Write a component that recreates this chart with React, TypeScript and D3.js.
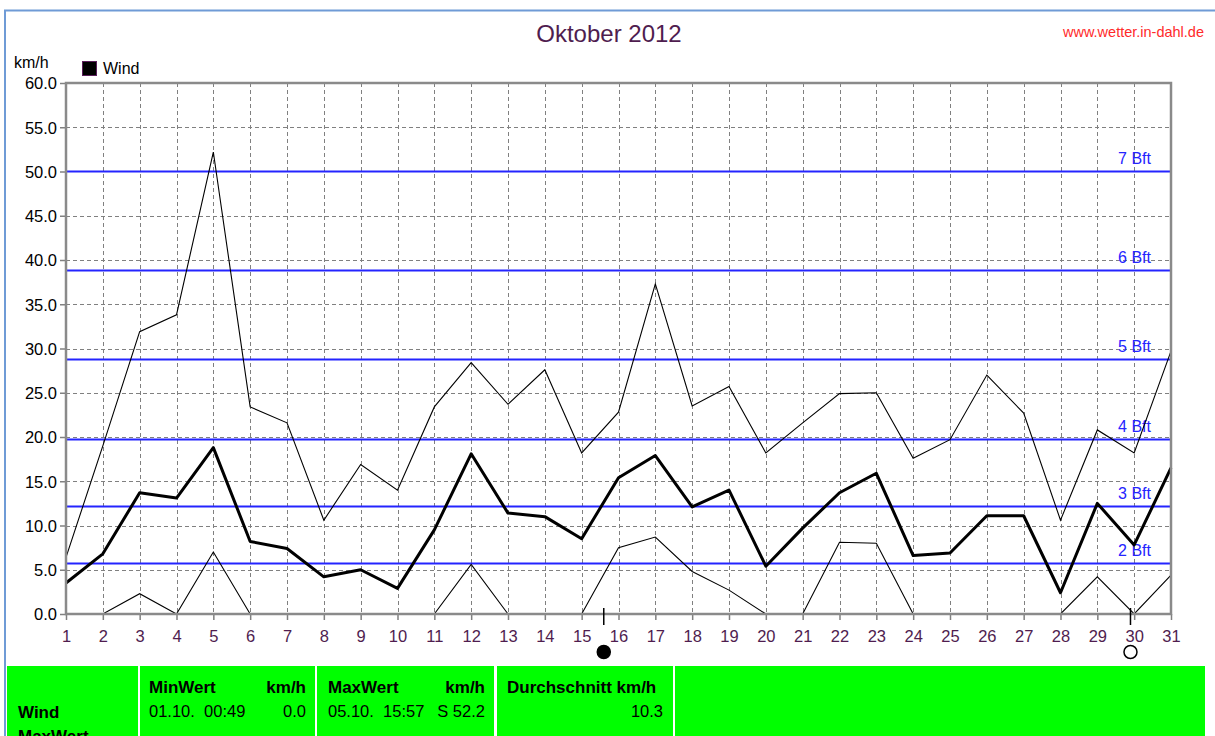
import { useRef, useLayoutEffect } from 'react';
import * as d3 from 'd3';

// Oktober 2012, Tageswerte Wind in km/h
const days = [1, 2, 3, 4, 5, 6, 7, 8, 9, 10, 11, 12, 13, 14, 15, 16, 17, 18, 19, 20, 21, 22, 23, 24, 25, 26, 27, 28, 29, 30, 31];
const windMax = [6.4, 19.0, 31.9, 33.8, 52.2, 23.4, 21.6, 10.6, 16.9, 14.0, 23.4, 28.4, 23.7, 27.6, 18.2, 22.8, 37.3, 23.5, 25.7, 18.2, 21.6, 24.9, 25.0, 17.6, 19.7, 27.0, 22.7, 10.6, 20.8, 18.2, 29.7];
const windAvg = [3.5, 6.8, 13.7, 13.1, 18.8, 8.2, 7.4, 4.2, 5.0, 2.9, 9.5, 18.1, 11.4, 11.0, 8.5, 15.4, 17.9, 12.1, 14.0, 5.4, 9.7, 13.7, 15.9, 6.6, 6.9, 11.1, 11.1, 2.4, 12.5, 7.8, 16.5];
const windMin = [0, 0, 2.3, 0, 7.0, 0, 0, 0, 0, 0, 0, 5.6, 0, 0, 0, 7.5, 8.7, 4.8, 2.7, 0, 0, 8.1, 8.0, 0, 0, 0, 0, 0, 4.2, 0, 4.4];

const yTicks = [0, 5, 10, 15, 20, 25, 30, 35, 40, 45, 50, 55, 60];
const bftLabels = ['2 Bft', '3 Bft', '4 Bft', '5 Bft', '6 Bft', '7 Bft'];
const bftKmh = [5.76, 12.24, 19.8, 28.8, 38.88, 50.04];

// Mondphasen: Neumond 15.10., Vollmond 29.10.
const moonDays = [15.6, 29.9];
const moonFull = [false, true];

const purple = '#4f1d4f';
const font = '"Liberation Sans", Arial, sans-serif';

export default function App() {
  const svgRef = useRef<SVGSVGElement>(null);

  useLayoutEffect(() => {
    const svgWidth = 1215;
    const svgHeight = 736;
    const margin = { top: 83, left: 66, right: 44, bottom: 122 };
    const width = svgWidth - margin.left - margin.right;
    const height = svgHeight - margin.top - margin.bottom;

    const svg = d3.select(svgRef.current).attr('width', svgWidth).attr('height', svgHeight);
    svg.selectAll('*').remove();

    svg.append('rect').attr('width', svgWidth).attr('height', svgHeight).attr('fill', '#fff');

    // Fensterrahmen
    svg.append('path')
      .attr('d', `M5,${svgHeight} V10.5 H${svgWidth}`)
      .attr('fill', 'none')
      .attr('stroke', '#6f9bd6')
      .attr('stroke-width', 2);

    svg.append('text')
      .attr('x', 609).attr('y', 42)
      .attr('text-anchor', 'middle')
      .attr('font-family', font).attr('font-size', 24)
      .attr('fill', purple)
      .text('Oktober 2012');

    svg.append('text')
      .attr('x', 1204).attr('y', 37)
      .attr('text-anchor', 'end')
      .attr('font-family', font).attr('font-size', 14.5)
      .attr('fill', '#ff2a2a')
      .text('www.wetter.in-dahl.de');

    svg.append('text')
      .attr('x', 14).attr('y', 68)
      .attr('font-family', font).attr('font-size', 16)
      .text('km/h');

    svg.append('rect')
      .attr('x', 82.5).attr('y', 61.5).attr('width', 14).attr('height', 14)
      .attr('fill', '#000').attr('stroke', '#5a1f5a');
    svg.append('text')
      .attr('x', 103).attr('y', 74)
      .attr('font-family', font).attr('font-size', 16)
      .text('Wind');

    const chart = svg.append('g').attr('transform', `translate(${margin.left}, ${margin.top})`);

    const xScale = d3.scaleLinear().domain([1, 31]).range([0, width]);
    const yScale = d3.scaleLinear().domain([0, 60]).range([height, 0]);

    // Gitter
    const grid = chart.append('g').attr('class', 'grid')
      .attr('stroke', '#808080').attr('stroke-width', 1).attr('stroke-dasharray', '4,3');
    grid.selectAll('.vgrid')
      .data(days.slice(1, -1))
      .join('line')
      .attr('class', 'vgrid')
      .attr('x1', (d) => Math.round(xScale(d)) + 0.5)
      .attr('x2', (d) => Math.round(xScale(d)) + 0.5)
      .attr('y1', 0).attr('y2', height);
    grid.selectAll('.hgrid')
      .data(yTicks.slice(1, -1))
      .join('line')
      .attr('class', 'hgrid')
      .attr('y1', (d) => Math.round(yScale(d)) + 0.5)
      .attr('y2', (d) => Math.round(yScale(d)) + 0.5)
      .attr('x1', 0).attr('x2', width);

    // Beaufort-Linien
    const bft = chart.append('g').attr('class', 'bft');
    bft.selectAll('line')
      .data(bftKmh)
      .join('line')
      .attr('x1', 0).attr('x2', width)
      .attr('y1', (d) => Math.round(yScale(d)) + 0.5)
      .attr('y2', (d) => Math.round(yScale(d)) + 0.5)
      .attr('stroke', '#2424ff').attr('stroke-width', 2);
    bft.selectAll('text')
      .data(bftKmh)
      .join('text')
      .attr('x', width - 20)
      .attr('y', (d) => yScale(d) - 7)
      .attr('text-anchor', 'end')
      .attr('font-family', font).attr('font-size', 16)
      .attr('fill', '#2424ff')
      .text((d, i) => bftLabels[i]);

    // Wind-Kurven
    const line = d3.line<number>()
      .x((d, i) => xScale(days[i]))
      .y((d) => yScale(d));
    chart.append('path').datum(windMax)
      .attr('d', line).attr('fill', 'none').attr('stroke', '#000').attr('stroke-width', 1.1);
    chart.append('path').datum(windMin)
      .attr('d', line).attr('fill', 'none').attr('stroke', '#000').attr('stroke-width', 1.1);
    chart.append('path').datum(windAvg)
      .attr('d', line).attr('fill', 'none').attr('stroke', '#000').attr('stroke-width', 3)
      .attr('stroke-linejoin', 'round');

    // Achsen
    const yAxis = d3.axisLeft(yScale).tickValues(yTicks).tickSize(6).tickPadding(3)
      .tickFormat((d) => d3.format('.1f')(d as number));
    const yAxisDraw = chart.append('g').attr('class', 'y axis').call(yAxis);
    const xAxis = d3.axisBottom(xScale).tickValues(days).tickSize(6).tickPadding(10)
      .tickFormat((d) => String(d));
    const xAxisDraw = chart.append('g').attr('class', 'x axis')
      .attr('transform', `translate(0, ${height})`).call(xAxis);

    [yAxisDraw, xAxisDraw].forEach((a) => {
      a.select('.domain').remove();
      a.selectAll('line').attr('stroke', '#808080').attr('stroke-width', 1.5);
      a.selectAll('text').attr('font-family', font).attr('font-size', 16.5);
    });
    yAxisDraw.selectAll('text').attr('fill', '#000').attr('dy', '0.36em');
    xAxisDraw.selectAll('text').attr('fill', purple);

    chart.append('rect')
      .attr('x', 0).attr('y', 0).attr('width', width).attr('height', height)
      .attr('fill', 'none').attr('stroke', '#8a8a8a').attr('stroke-width', 2.5);

    // Mondphasen
    const moons = chart.append('g').attr('class', 'moons');
    moons.selectAll('line')
      .data(moonDays)
      .join('line')
      .attr('x1', (d) => xScale(d)).attr('x2', (d) => xScale(d))
      .attr('y1', height - 6).attr('y2', height + 11)
      .attr('stroke', '#000').attr('stroke-width', 1.5);
    moons.selectAll('circle')
      .data(moonDays)
      .join('circle')
      .attr('cx', (d) => xScale(d))
      .attr('cy', height + 38)
      .attr('r', 6.5)
      .attr('fill', (d, i) => (moonFull[i] ? '#fff' : '#000'))
      .attr('stroke', '#000').attr('stroke-width', 1.5);

    // Tabelle
    const cells = [
      [7, 131],
      [140, 175],
      [317, 177],
      [497, 176],
      [675, 530],
    ];
    const table = svg.append('g').attr('class', 'table');
    table.selectAll('rect')
      .data(cells)
      .join('rect')
      .attr('x', (d) => d[0]).attr('y', 666)
      .attr('width', (d) => d[1]).attr('height', 90)
      .attr('fill', '#00ff00');

    const cellTexts = [
      { x: 18, y: 718, t: 'Wind', bold: true, end: false },
      { x: 18, y: 742, t: 'MaxWert', bold: true, end: false },
      { x: 149, y: 693, t: 'MinWert', bold: true, end: false },
      { x: 306, y: 693, t: 'km/h', bold: true, end: true },
      { x: 149, y: 717, t: '01.10.  00:49', bold: false, end: false },
      { x: 306, y: 717, t: '0.0', bold: false, end: true },
      { x: 328, y: 693, t: 'MaxWert', bold: true, end: false },
      { x: 485, y: 693, t: 'km/h', bold: true, end: true },
      { x: 328, y: 717, t: '05.10.  15:57', bold: false, end: false },
      { x: 485, y: 717, t: 'S 52.2', bold: false, end: true },
      { x: 507, y: 693, t: 'Durchschnitt km/h', bold: true, end: false },
      { x: 663, y: 717, t: '10.3', bold: false, end: true },
    ];
    table.selectAll('text')
      .data(cellTexts)
      .join('text')
      .attr('x', (d) => d.x).attr('y', (d) => d.y)
      .attr('text-anchor', (d) => (d.end ? 'end' : 'start'))
      .attr('font-family', font)
      .attr('font-size', (d) => (d.bold ? 17 : 16.5))
      .attr('font-weight', (d) => (d.bold ? 'bold' : 'normal'))
      .style('white-space', 'pre')
      .text((d) => d.t);
  }, []);

  return (
    <div style={{ position: 'absolute', left: 0, top: 0 }}>
      <svg ref={svgRef} style={{ display: 'block' }} />
    </div>
  );
}
